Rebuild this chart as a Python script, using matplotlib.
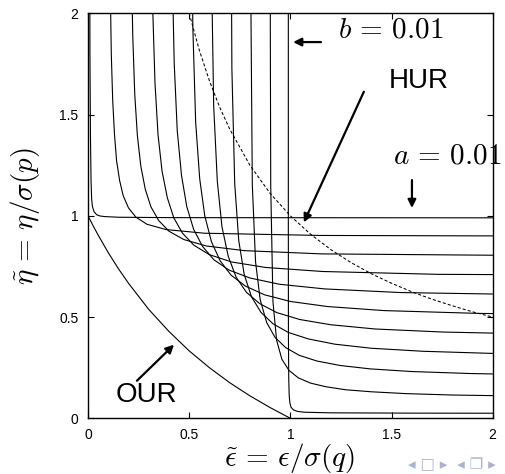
import matplotlib
matplotlib.use("Agg")
import matplotlib.pyplot as plt

eps_a001 = [0.009, 0.0095, 0.012, 0.015, 0.018, 0.022, 0.03, 0.043, 0.06, 0.085, 0.15, 0.4, 2.05]
eta_a001 = [2.05, 1.8, 1.4, 1.17, 1.08, 1.045, 1.02, 1.005, 0.999, 0.996, 0.993, 0.991, 0.99]

eps_a01 = [0.110, 0.115, 0.122, 0.131, 0.141, 0.156, 0.174, 0.2, 0.237, 0.292, 0.386, 0.576, 1.147, 1.911, 2.865]
eta_a01 = [2.130, 1.8, 1.569, 1.400, 1.273, 1.175, 1.099, 1.039, 0.993, 0.958, 0.932, 0.914, 0.903, 0.901, 0.9005]

eps_a02 = [0.213, 0.221, 0.231, 0.244, 0.261, 0.283, 0.311, 0.349, 0.4, 0.473, 0.585, 0.773, 1.152, 2.295]
eta_a02 = [2.339, 1.893, 1.6, 1.395, 1.245, 1.131, 1.044, 0.977, 0.924, 0.883, 0.851, 0.828, 0.812, 0.803]

eps_a03 = [0.311, 0.319, 0.331, 0.346, 0.366, 0.392, 0.424, 0.467, 0.523, 0.6, 0.710, 0.877, 1.159, 1.728, 3.442]
eta_a03 = [2.705, 2.047, 1.656, 1.4, 1.220, 1.089, 0.990, 0.914, 0.855, 0.808, 0.772, 0.745, 0.725, 0.711, 0.703]

eps_a04 = [0.406, 0.414, 0.426, 0.441, 0.462, 0.488, 0.522, 0.566, 0.622, 0.697, 0.8, 0.946, 1.170, 1.545, 2.304]
eta_a04 = [3.455, 2.318, 1.754, 1.420, 1.2, 1.046, 0.933, 0.849, 0.783, 0.732, 0.693, 0.662, 0.639, 0.621, 0.609]

eps_a05 = [0.508, 0.518, 0.532, 0.552, 0.577, 0.610, 0.653, 0.707, 0.778, 0.872, 1.0, 1.183, 1.462, 1.932, 2.879]
eta_a05 = [2.879, 1.932, 1.462, 1.183, 1.0, 0.872, 0.778, 0.707, 0.653, 0.610, 0.577, 0.552, 0.532, 0.518, 0.508]

eps_a06 = [3.455, 2.318, 1.754, 1.420, 1.2, 1.046, 0.933, 0.849, 0.783, 0.732, 0.693, 0.662, 0.639, 0.621, 0.609]
eta_a06 = [0.406, 0.414, 0.426, 0.441, 0.462, 0.488, 0.522, 0.566, 0.622, 0.697, 0.8, 0.946, 1.170, 1.545, 2.304]

eps_a07 = [2.705, 2.047, 1.656, 1.4, 1.220, 1.089, 0.990, 0.914, 0.855, 0.808, 0.772, 0.745, 0.725, 0.711, 0.703]
eta_a07 = [0.311, 0.319, 0.331, 0.346, 0.366, 0.392, 0.424, 0.467, 0.523, 0.6, 0.710, 0.877, 1.159, 1.728, 3.442]

eps_a08 = [2.339, 1.893, 1.6, 1.395, 1.245, 1.131, 1.044, 0.977, 0.924, 0.883, 0.851, 0.828, 0.812, 0.803]
eta_a08 = [0.213, 0.221, 0.231, 0.244, 0.261, 0.283, 0.311, 0.349, 0.4, 0.473, 0.585, 0.773, 1.152, 2.295]

eps_a09 = [2.130, 1.8, 1.569, 1.400, 1.273, 1.175, 1.099, 1.039, 0.993, 0.958, 0.932, 0.914, 0.903, 0.901, 0.9005]
eta_a09 = [0.110, 0.115, 0.122, 0.131, 0.141, 0.156, 0.174, 0.2, 0.237, 0.292, 0.386, 0.576, 1.147, 1.911, 2.865]

eps_a099 = [0.99, 0.99, 0.9905, 0.992, 0.994, 0.997, 1.003, 1.015, 1.035, 1.07, 1.2, 1.6, 2.05]
eta_a099 = [2.05, 1.0, 0.4, 0.2, 0.12, 0.08, 0.055, 0.042, 0.034, 0.030, 0.027, 0.0255, 0.025]

# Ozawa's relation boundary (OUR)
our_eps = [0.0, 0.025, 0.05, 0.1, 0.15, 0.2, 0.3, 0.4, 0.5, 0.6, 0.7, 0.8, 0.9, 1.0]
our_eta = [1.0, 0.951, 0.905, 0.818, 0.739, 0.667, 0.538, 0.429, 0.333, 0.25, 0.176, 0.111, 0.053, 0.0]

# Heisenberg's relation boundary (HUR)
hur_eps = [0.5, 0.55, 0.6, 0.65, 0.7, 0.8, 0.9, 1.0, 1.1, 1.2, 1.3, 1.4, 1.5, 1.6, 1.7, 1.8, 1.9, 2.0]
hur_eta = [2.0, 1.818, 1.667, 1.538, 1.429, 1.25, 1.111, 1.0, 0.909, 0.833, 0.769, 0.714, 0.667, 0.625, 0.588, 0.556, 0.526, 0.5]

ticks = [0, 0.5, 1, 1.5, 2]
tick_labels = ["0", "0.5", "1", "1.5", "2"]

family = [
    (eps_a001, eta_a001), (eps_a01, eta_a01), (eps_a02, eta_a02),
    (eps_a03, eta_a03), (eps_a04, eta_a04), (eps_a05, eta_a05),
    (eps_a06, eta_a06), (eps_a07, eta_a07), (eps_a08, eta_a08),
    (eps_a09, eta_a09), (eps_a099, eta_a099),
]

plt.rcParams["mathtext.fontset"] = "cm"
plt.rcParams["font.family"] = ["Liberation Sans", "DejaVu Sans"]

fig = plt.figure(figsize=(5.05, 4.74), dpi=100)
ax = fig.add_axes([0.1743, 0.1175, 0.8013, 0.8544])

for xs, ys in family:
    ax.plot(xs, ys, color="black", lw=0.8)

ax.plot(our_eps, our_eta, color="black", lw=0.8)
ax.plot(hur_eps, hur_eta, color="black", lw=0.75, dashes=(3.0, 2.0))

ax.set_xlim(0, 2)
ax.set_ylim(0, 2)
ax.set_xticks(ticks)
ax.set_xticklabels(tick_labels)
ax.set_yticks(ticks)
ax.set_yticklabels(tick_labels)
ax.tick_params(direction="in", top=True, right=True, length=4, width=0.8,
               labelsize=10, pad=7)
for s in ax.spines.values():
    s.set_linewidth(1.0)

fig.text(0.574, 0.033, r"$\tilde{\epsilon}\,=\,\epsilon/\sigma(q)$", fontsize=21,
         ha="center", va="center")
fig.text(0.05, 0.544, r"$\tilde{\eta}\,=\,\eta/\sigma(p)$", fontsize=21,
         ha="center", va="center", rotation=90)

arrow = dict(arrowstyle="-|>", color="black", lw=1.6, mutation_scale=12)

# b = 0.01
ax.text(1.495, 1.92, r"$b\,=\,0.01$", fontsize=21, ha="center", va="center")
ax.annotate("", xy=(1.0, 1.858), xytext=(1.165, 1.858), arrowprops=arrow)

# HUR
ax.text(1.635, 1.665, "HUR", fontsize=20, ha="center", va="center")
ax.annotate("", xy=(1.061, 0.955), xytext=(1.369, 1.625), arrowprops=arrow)

# a = 0.01
ax.text(1.775, 1.296, r"$a\,=\,0.01$", fontsize=21, ha="center", va="center",
        clip_on=False)
ax.annotate("", xy=(1.601, 1.025), xytext=(1.601, 1.19), arrowprops=arrow)

# OUR
ax.text(0.287, 0.115, "OUR", fontsize=20, ha="center", va="center")
ax.annotate("", xy=(0.435, 0.373), xytext=(0.232, 0.176), arrowprops=arrow)

# beamer navigation symbols
fig.text(0.895, 0.02, "\u25c2 \u25a1 \u25b8  \u25c2 \u2750 \u25b8", fontsize=11,
         color="#aab2d0", ha="center", va="center", family="DejaVu Sans")

fig.savefig("out.png", dpi=100)
